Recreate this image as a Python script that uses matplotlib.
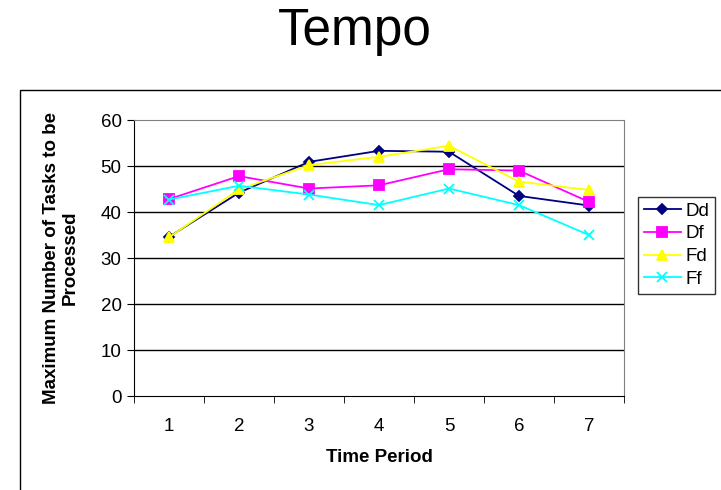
import matplotlib
matplotlib.use("Agg")
import matplotlib.pyplot as plt
from matplotlib.patches import Rectangle

plt.rcParams['font.family'] = ['Liberation Sans', 'DejaVu Sans']

# Tempo results per time period
periods = [1, 2, 3, 4, 5, 6, 7]
dd = [34.6, 44.2, 50.9, 53.3, 53.1, 43.5, 41.4]
df = [42.8, 47.8, 45.1, 45.8, 49.3, 49.0, 42.2]
fd = [34.5, 44.9, 50.2, 52.0, 54.4, 46.6, 44.8]
ff = [42.7, 45.7, 43.8, 41.5, 45.1, 41.5, 35.0]

W, H = 721, 490
fig = plt.figure(figsize=(W / 100, H / 100), dpi=100)

# outer chart-area frame
fig.patches.append(Rectangle((20 / W, -0.1), 1.5, 1 - 90 / H + 0.1,
                             transform=fig.transFigure, fill=False,
                             edgecolor='black', linewidth=1.0))

ax = fig.add_axes([134 / W, (H - 396) / H, 490 / W, 276 / H])

series = [
    ("Dd", dd, '#000080', 'D', 5),
    ("Df", df, '#FF00FF', 's', 6.5),
    ("Fd", fd, '#FFFF00', '^', 7),
    ("Ff", ff, '#00FFFF', 'x', 7),
]
for name, vals, col, mk, ms in series:
    ax.plot(periods, vals, color=col, marker=mk, markersize=ms,
            markeredgewidth=1.3, linewidth=1.3, label=name, zorder=3)

ax.set_xlim(0.5, 7.5)
ax.set_ylim(0, 60)
ax.set_yticks(range(0, 61, 10))
for y in range(10, 60, 10):
    ax.axhline(y, color='black', linewidth=1.0, zorder=1)

ax.set_xticks(periods)
ax.set_xticks([p + 0.5 for p in range(0, 8)], minor=True)
ax.tick_params(axis='x', which='major', length=0, labelsize=13.5, pad=16)
ax.tick_params(axis='x', which='minor', length=5, direction='out')
ax.tick_params(axis='y', length=5, direction='out', labelsize=13.5, pad=4)

for side in ('top', 'right'):
    ax.spines[side].set_color('#808080')
ax.spines['left'].set_color('black')
ax.spines['bottom'].set_color('black')

ax.set_xlabel("Time Period", fontsize=13.5, fontweight='bold', labelpad=10)
ax.set_ylabel("Maximum Number of Tasks to be\nProcessed", fontsize=13.5,
              fontweight='bold', labelpad=16, linespacing=1.1)

fig.text(355 / W, 1 - 31 / H, "Tempo", fontsize=37, ha='center', va='center')

leg = fig.legend(loc='upper left', bbox_to_anchor=(638 / W, 1 - 197 / H),
                 fontsize=13.5, frameon=True, fancybox=False, handlelength=2.0,
                 borderpad=0.3, labelspacing=0.3, handletextpad=0.25,
                 borderaxespad=0)
leg.get_frame().set_edgecolor('black')
leg.get_frame().set_linewidth(1.0)

fig.savefig("out.png", dpi=100)
